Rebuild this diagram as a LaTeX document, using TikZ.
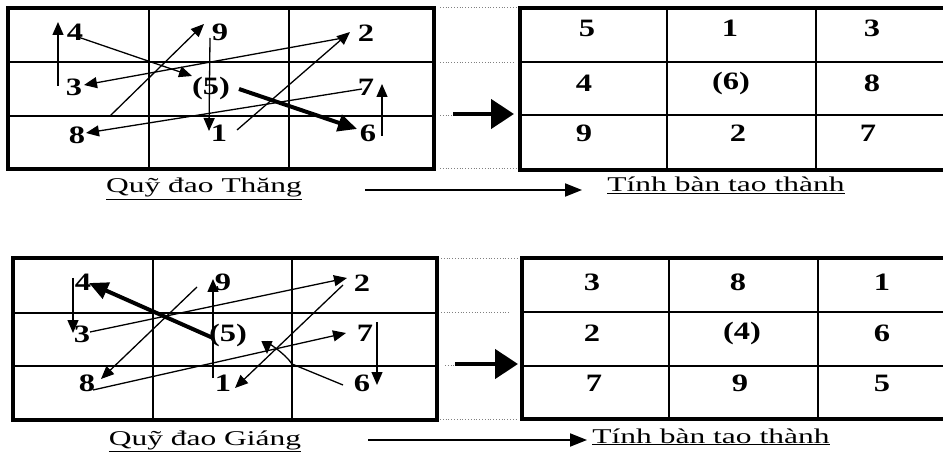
\documentclass[tikz,border=0pt]{standalone}
\usepackage{fontspec}
\setmainfont{Liberation Serif}
\usetikzlibrary{arrows.meta}
\newcommand{\dg}[1]{\scalebox{1.3}[1]{\bfseries #1}}
\newcommand{\lb}[1]{\scalebox{1.5}[1]{\underline{#1}}}
\tikzset{
  num/.style={font=\fontsize{25}{25}\selectfont, inner sep=0pt},
  lab/.style={font=\fontsize{21}{21}\selectfont, inner sep=0pt, anchor=base},
  outer/.style={line width=3.2pt},
  inner/.style={line width=2.2pt},
  thin/.style={line width=1.3pt, -{Triangle[length=13pt,width=11pt]}},
  thick/.style={line width=4pt, -{Triangle[length=19pt,width=17pt]}},
  dots/.style={line width=0.8pt, dotted, gray},
  big/.style={line width=4.5pt, -{Triangle[length=23pt,width=29pt]}},
  long/.style={line width=2pt, -{Triangle[length=17pt,width=13pt]}}
}
\begin{document}
\begin{tikzpicture}[x=1pt,y=-1pt]
\useasboundingbox[fill=white] (0,0) rectangle (943,457);

% ---------- grids ----------
% top-left
\draw[inner] (149,8) -- (149,169) (289,8) -- (289,169) (8,62) -- (434,62) (8,116) -- (434,116);
\draw[outer] (8,8) rectangle (434,169);
% top-right
\draw[inner] (667,8) -- (667,170) (816,8) -- (816,170) (520,62) -- (950,62) (520,115) -- (950,115);
\draw[outer] (520,8) rectangle (950,170);
% bottom-left
\draw[inner] (153,258) -- (153,420) (292,258) -- (292,420) (13,313) -- (437,313) (13,366) -- (437,366);
\draw[outer] (13,258) rectangle (437,420);
% bottom-right
\draw[inner] (669,258) -- (669,419) (818,258) -- (818,419) (522,312) -- (950,312) (522,366) -- (950,366);
\draw[outer] (522,258) rectangle (950,419);

% dotted guides
\draw[dots] (440,7) -- (516,7) (440,62) -- (515,62) (440,115) -- (455,115) (440,168) -- (516,168);
\draw[dots] (441,258) -- (517,258) (441,312) -- (510,312) (445,365) -- (455,365) (440,419) -- (518,419);

% ---------- numbers: top-left (Thang) ----------
\node[num] (a4) at (75,32) {\dg{4}};
\node[num] (a9) at (220,32) {\dg{9}};
\node[num] (a2) at (366,33) {\dg{2}};
\node[num] (a3) at (74,87) {\dg{3}};
\node[num] (a5) at (211,88) {\dg{(5)}};
\node[num] (a7) at (366,87) {\dg{7}};
\node[num] (a8) at (77,135) {\dg{8}};
\node[num] (a1) at (219,133) {\dg{1}};
\node[num] (a6) at (368,133) {\dg{6}};

% ---------- numbers: top-right ----------
\node[num] (r1) at (587,28) {\dg{5}};
\node[num] (r2) at (730,28) {\dg{1}};
\node[num] (r3) at (872,28) {\dg{3}};
\node[num] (r4) at (584,83) {\dg{4}};
\node[num] (r5) at (731,83) {\dg{(6)}};
\node[num] (r6) at (872,83) {\dg{8}};
\node[num] (r7) at (584,133) {\dg{9}};
\node[num] (r8) at (738,133) {\dg{2}};
\node[num] (r9) at (868,133) {\dg{7}};

% ---------- numbers: bottom-left (Giang) ----------
\node[num] (b4) at (83,282) {\dg{4}};
\node[num] (b9) at (223,282) {\dg{9}};
\node[num] (b2) at (362,283) {\dg{2}};
\node[num] (b3) at (82,334) {\dg{3}};
\node[num] (b5) at (228,335) {\dg{(5)}};
\node[num] (b7) at (365,333) {\dg{7}};
\node[num] (b8) at (87,383) {\dg{8}};
\node[num] (b1) at (223,383) {\dg{1}};
\node[num] (b6) at (362,383) {\dg{6}};

% ---------- numbers: bottom-right ----------
\node[num] (s1) at (592,282) {\dg{3}};
\node[num] (s2) at (738,282) {\dg{8}};
\node[num] (s3) at (882,282) {\dg{1}};
\node[num] (s4) at (592,333) {\dg{2}};
\node[num] (s5) at (742,333) {\dg{(4)}};
\node[num] (s6) at (882,333) {\dg{6}};
\node[num] (s7) at (594,383) {\dg{7}};
\node[num] (s8) at (740,383) {\dg{9}};
\node[num] (s9) at (882,383) {\dg{5}};

% ---------- connector end points, top ----------
\coordinate (ta1s) at (237,130); \coordinate (ta2e) at (350,32);
\coordinate (ta2s) at (343,38);  \coordinate (ta3e) at (84,85);
\coordinate (ta3s) at (58,86);   \coordinate (ta4e) at (58,22);
\coordinate (ta4s) at (78,37);   \coordinate (ta5e) at (192,76);
\coordinate (ta5s) at (239,89);  \coordinate (ta6e) at (357,129);
\coordinate (ta6s) at (382,136); \coordinate (ta7e) at (382,84);
\coordinate (ta7s) at (362,89);  \coordinate (ta8e) at (86,133);
\coordinate (ta8s) at (110,116); \coordinate (ta9e) at (204,24);
\coordinate (ta9s) at (210,38);  \coordinate (ta1e) at (209,131);

\draw[thin] (ta1s) -- (ta2e);
\draw[thin] (ta2s) -- (ta3e);
\draw[thin] (ta3s) -- (ta4e);
\draw[thin] (ta4s) -- (ta5e);
\draw[thick] (ta5s) -- (ta6e);
\draw[thin] (ta6s) -- (ta7e);
\draw[thin] (ta7s) -- (ta8e);
\draw[thin] (ta8s) -- (ta9e);
\draw[thin] (ta9s) -- (ta1e);

% ---------- connector end points, bottom ----------
\coordinate (tb9s) at (197,287); \coordinate (tb8e) at (101,379);
\coordinate (tb8s) at (93,390);  \coordinate (tb7e) at (346,333);
\coordinate (tb7s) at (377,322); \coordinate (tb6e) at (377,385);
\coordinate (tb6s) at (343,385); \coordinate (tbk) at (292,364); \coordinate (tb5e) at (267,354);
\coordinate (tb5s) at (213,338); \coordinate (tb4e) at (89,283);
\coordinate (tb4s) at (73,278);  \coordinate (tb3e) at (73,333);
\coordinate (tb3s) at (90,332);  \coordinate (tb2e) at (347,278);
\coordinate (tb2s) at (343,285); \coordinate (tb1e) at (235,388);
\coordinate (tb1s) at (213,378); \coordinate (tb9e) at (213,279);

\draw[thin] (tb9s) -- (tb8e);
\draw[thin] (tb8s) -- (tb7e);
\draw[thin] (tb7s) -- (tb6e);
\draw[thin] (tb6s) -- (tbk) .. controls (284,352) and (267,343) .. (tb5e);
\draw[thick] (tb5s) -- (tb4e);
\draw[thin] (tb4s) -- (tb3e);
\draw[thin] (tb3s) -- (tb2e);
\draw[thin] (tb2s) -- (tb1e);
\draw[thin] (tb1s) -- (tb9e);

% ---------- big arrows between grids ----------
\coordinate (m1s) at (453,114); \coordinate (m1e) at (514,114);
\coordinate (m2s) at (455,364); \coordinate (m2e) at (518,364);
\draw[big] (m1s) -- (m1e);
\draw[big] (m2s) -- (m2e);

% ---------- labels ----------
\node[lab] (l1) at (204,193) {\lb{Quỹ đao Thăng}};
\node[lab] (l2) at (726,192) {\lb{Tính bàn tao thành}};
\node[lab] (l3) at (205,445) {\lb{Quỹ đao Giáng}};
\node[lab] (l4) at (711,443) {\lb{Tính bàn tao thành}};

\coordinate (h1s) at (365,190); \coordinate (h1e) at (582,190);
\coordinate (h2s) at (368,440); \coordinate (h2e) at (587,440);
\draw[long] (h1s) -- (h1e);
\draw[long] (h2s) -- (h2e);
\end{tikzpicture}
\end{document}
